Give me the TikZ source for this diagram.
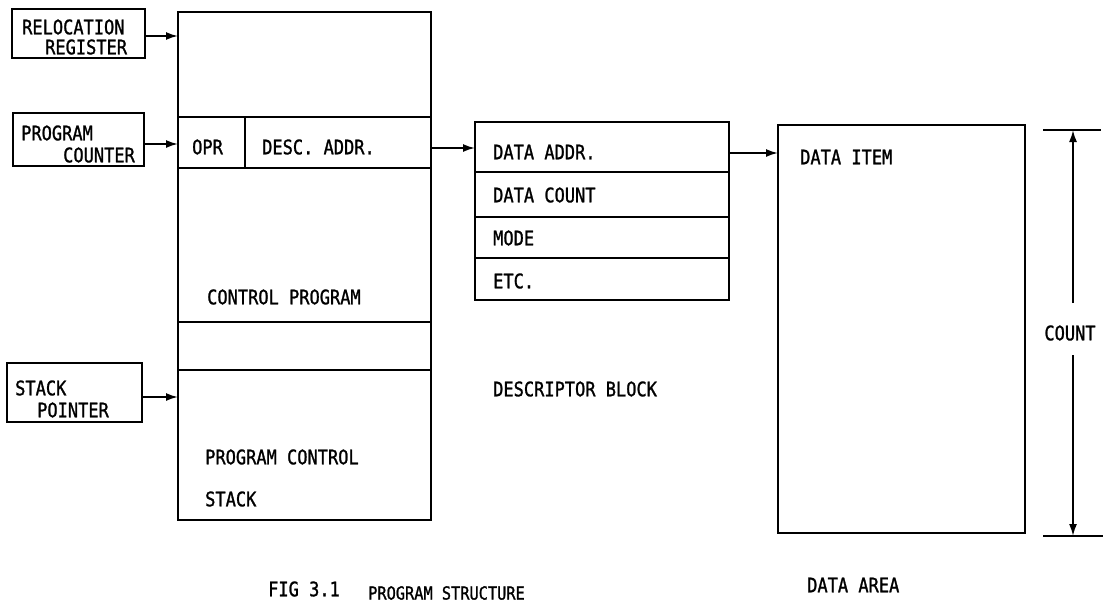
\documentclass[tikz,border=0pt]{standalone}
\usepackage{fontspec}
\newfontfamily\lgfont[FakeStretch=0.85,FakeBold=1.2]{DejaVu Sans Mono}
\usetikzlibrary{arrows.meta}
\begin{document}
\begin{tikzpicture}[x=1pt,y=-1pt,
  box/.style={draw,line width=2pt},
  lbl/.style={inner sep=0pt,anchor=west,font=\lgfont\fontsize{20}{22}\selectfont},
  captext/.style={inner sep=0pt,anchor=west,font=\lgfont\fontsize{18}{20}\selectfont},
  arr/.style={line width=1.8pt,-{Latex[length=12pt,width=8pt]}},
  dimline/.style={line width=2pt}]
\useasboundingbox (0,0) rectangle (1108,605);
% registers
\draw[box] (12,9) rectangle (145,58);
\node[lbl] (rr1) at (22,27) {RELOCATION};
\node[lbl] (rr2) at (45,47) {REGISTER};
\coordinate (rr) at (145,36);
\draw[box] (13,113) rectangle (144,166);
\node[lbl] (pc1) at (21,133) {PROGRAM};
\node[lbl] (pc2) at (63,155) {COUNTER};
\coordinate (pc) at (144,144);
\draw[box] (7,363) rectangle (142,422);
\node[lbl] (sp1) at (15,388) {STACK};
\node[lbl] (sp2) at (37,410) {POINTER};
\coordinate (sp) at (142,397);
% main program box
\draw[box] (178,12) rectangle (431,520);
\draw[box] (178,117) -- (431,117);
\draw[box] (178,168) -- (431,168);
\draw[box] (245,117) -- (245,168);
\draw[box] (178,322) -- (431,322);
\draw[box] (178,370) -- (431,370);
\coordinate (mrr) at (178,36);
\coordinate (mpc) at (178,144);
\coordinate (msp) at (178,397);
\coordinate (mda) at (431,148);
\node[lbl] (opr) at (192,147) {OPR};
\node[lbl] (desc) at (262,147) {DESC. ADDR.};
\node[lbl] (cp) at (207,297) {CONTROL PROGRAM};
\node[lbl] (pcs1) at (205,457) {PROGRAM CONTROL};
\node[lbl] (pcs2) at (205,499) {STACK};
\draw[arr] (rr) -- (mrr);
\draw[arr] (pc) -- (mpc);
\draw[arr] (sp) -- (msp);
% descriptor block
\draw[box] (475,122) rectangle (729,300);
\draw[box] (475,172) -- (729,172);
\draw[box] (475,217) -- (729,217);
\draw[box] (475,258) -- (729,258);
\coordinate (dl) at (475,148);
\coordinate (dr) at (729,153);
\node[lbl] (da) at (493,152) {DATA ADDR.};
\node[lbl] (dc) at (493,195) {DATA COUNT};
\node[lbl] (mo) at (493,238) {MODE};
\node[lbl] (et) at (493,281) {ETC.};
\node[lbl] (db) at (493,389) {DESCRIPTOR BLOCK};
\draw[arr] (mda) -- (dl);
% data area
\draw[box] (778,125) rectangle (1025,533);
\coordinate (al) at (778,153);
\node[lbl] (di) at (800,157) {DATA ITEM};
\draw[arr] (dr) -- (al);
% count dimension
\coordinate (ct) at (1073,130);
\coordinate (cb) at (1073,536);
\draw[dimline] (1043,130) -- (1101,130);
\draw[dimline] (1043,536) -- (1103,536);
\node[lbl,anchor=center] (cnt) at (1070,333) {COUNT};
\draw[arr] (1073,303) -- (ct);
\draw[arr] (1073,355) -- (cb);
% captions
\node[lbl] (fig) at (268,589) {FIG 3.1};
\node[captext] (ps) at (368,593) {PROGRAM STRUCTURE};
\node[lbl] (dar) at (807,585) {DATA AREA};
\end{tikzpicture}
\end{document}
